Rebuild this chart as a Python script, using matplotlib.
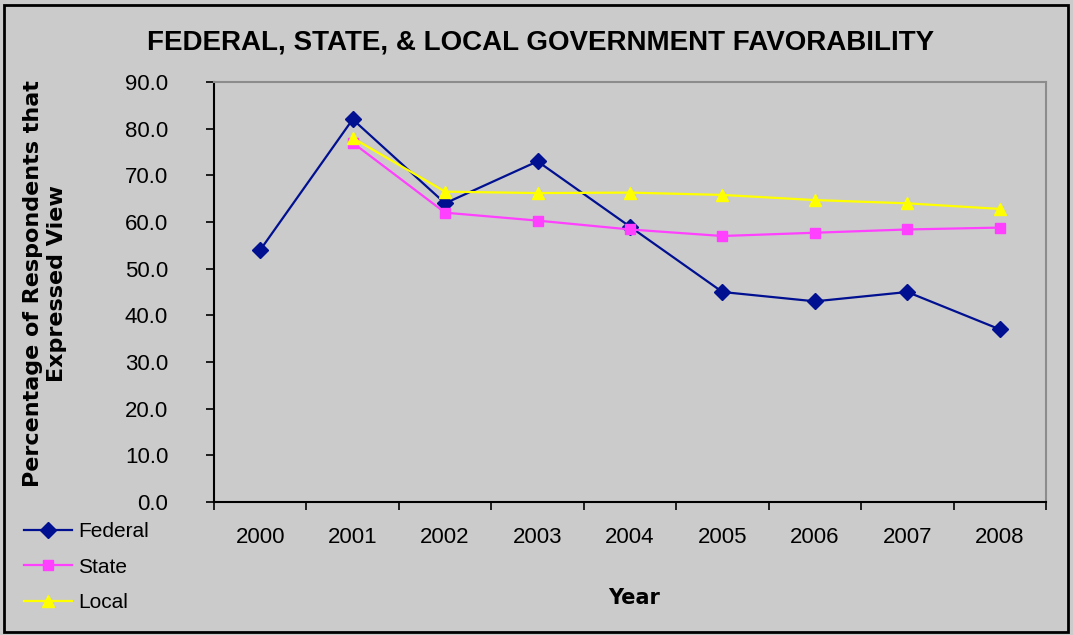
import numpy as np
import matplotlib.pyplot as plt
from matplotlib.patches import Rectangle

# chart data
years = ['2000', '2001', '2002', '2003', '2004', '2005', '2006', '2007', '2008']
federal = [54.0, 82.0, 64.0, 73.0, 59.0, 45.0, 43.0, 45.0, 37.0]
state = [None, 77.0, 62.0, 60.3, 58.4, 57.0, 57.7, 58.4, 58.8]
local = [None, 78.0, 66.5, 66.2, 66.3, 65.8, 64.7, 64.0, 62.8]

bg = '#CBCBCB'
plt.rcParams['font.family'] = ['Liberation Sans', 'DejaVu Sans']

fig = plt.figure(figsize=(10.73, 6.35), dpi=100, facecolor=bg)
ax = fig.add_axes([214 / 1073, 1 - 502 / 635, (1046 - 214) / 1073, (502 - 82) / 635])
ax.set_facecolor(bg)

x = np.arange(len(years))


def series(vals):
    return np.array([np.nan if v is None else v for v in vals])


ax.plot(x, series(federal), color='#001090', marker='D', markersize=8, lw=1.6, label='Federal')
ax.plot(x, series(state), color='#FF40FF', marker='s', markersize=7.5, lw=1.6, label='State')
ax.plot(x, series(local), color='#FFFF00', marker='^', markersize=9, lw=1.6, label='Local')

ax.set_xlim(-0.5, len(years) - 0.5)
ax.set_ylim(0, 90)
ax.set_yticks(np.arange(0, 91, 10))
ax.set_yticklabels([f'{v:.1f}' for v in np.arange(0, 91, 10)], fontsize=16)
ax.set_xticks(x)
ax.set_xticklabels(years, fontsize=16)
ax.set_xticks(np.arange(-0.5, len(years), 1), minor=True)
ax.tick_params(axis='x', which='major', length=0, pad=18)
ax.tick_params(axis='x', which='minor', length=6, direction='out', width=1.2)
ax.tick_params(axis='y', length=6, direction='out', width=1.2, pad=27)

for s in ['left', 'bottom']:
    ax.spines[s].set_color('black')
    ax.spines[s].set_linewidth(1.5)
for s in ['top', 'right']:
    ax.spines[s].set_color('#8C8C8C')
    ax.spines[s].set_linewidth(1.5)

fig.text(541 / 1073, 1 - 43 / 635, 'FEDERAL, STATE, & LOCAL GOVERNMENT FAVORABILITY',
         ha='center', va='center', fontsize=20, fontweight='bold')
fig.text(45 / 1073, 1 - 284 / 635, 'Percentage of Respondents that\nExpressed View',
         ha='center', va='center', rotation=90, fontsize=16, fontweight='bold',
         family='DejaVu Sans', linespacing=1.22)
fig.text(634 / 1073, 1 - 598 / 635, 'Year', ha='center', va='center',
         fontsize=15, fontweight='bold', family='DejaVu Sans')

fig.legend(loc='upper left', bbox_to_anchor=(24 / 1073, 1 - 522 / 635), frameon=False,
           fontsize=15, handlelength=2.3, handletextpad=0.3, labelspacing=0.8,
           borderpad=0, borderaxespad=0)

fig.patches.append(Rectangle((4 / 1073, 3 / 635), 1064 / 1073, 627 / 635,
                             transform=fig.transFigure, fill=False,
                             edgecolor='black', lw=2))

fig.savefig('out.png', dpi=100, facecolor=bg)
